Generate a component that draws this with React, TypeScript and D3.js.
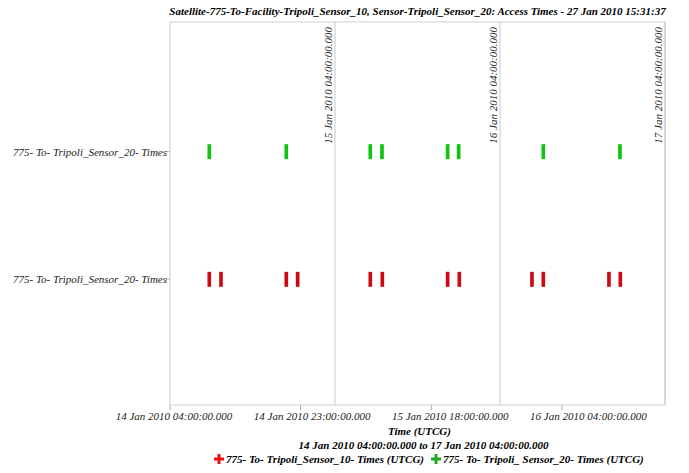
import React from "react";
import * as d3 from "d3";

const TITLE = "Satellite-775-To-Facility-Tripoli_Sensor_10, Sensor-Tripoli_Sensor_20: Access Times - 27 Jan 2010 15:31:37";
const rows = ["775- To- Tripoli_Sensor_20- Times (green)", "775- To- Tripoli_Sensor_20- Times (red)"];
const rowLabels = ["775- To- Tripoli_Sensor_20- Times", "775- To- Tripoli_Sensor_20- Times"];

const domainStart = "2010-01-14T04:00:00Z";
const domainEnd = "2010-01-17T04:00:00Z";

const tickTimes = ["2010-01-14T04:00:00Z", "2010-01-14T23:00:00Z", "2010-01-15T18:00:00Z", "2010-01-16T13:00:00Z"];
const tickLabels = ["14 Jan 2010 04:00:00.000", "14 Jan 2010 23:00:00.000", "15 Jan 2010 18:00:00.000", "16 Jan 2010 04:00:00.000"];

const dayLines = ["2010-01-15T04:00:00Z", "2010-01-16T04:00:00Z", "2010-01-17T04:00:00Z"];
const dayLabels = ["15 Jan 2010 04:00:00.000", "16 Jan 2010 04:00:00.000", "17 Jan 2010 04:00:00.000"];

// Sensor_20 (green) access intervals [start, stop]
const greenStarts = ["2010-01-14T09:27:00Z", "2010-01-14T20:39:00Z", "2010-01-15T08:52:00Z", "2010-01-15T10:34:00Z", "2010-01-15T20:07:00Z", "2010-01-15T21:43:00Z", "2010-01-16T10:02:00Z", "2010-01-16T21:11:00Z"];
const greenStops = ["2010-01-14T09:59:00Z", "2010-01-14T21:11:00Z", "2010-01-15T09:24:00Z", "2010-01-15T11:06:00Z", "2010-01-15T20:39:00Z", "2010-01-15T22:15:00Z", "2010-01-16T10:34:00Z", "2010-01-16T21:43:00Z"];

// Sensor_10 (red) access intervals [start, stop]
const redStarts = ["2010-01-14T09:27:00Z", "2010-01-14T11:09:00Z", "2010-01-14T20:39:00Z", "2010-01-14T22:18:00Z", "2010-01-15T08:52:00Z", "2010-01-15T10:37:00Z", "2010-01-15T20:07:00Z", "2010-01-15T21:49:00Z", "2010-01-16T08:23:00Z", "2010-01-16T10:02:00Z", "2010-01-16T19:35:00Z", "2010-01-16T21:14:00Z"];
const redStops = ["2010-01-14T09:59:00Z", "2010-01-14T11:41:00Z", "2010-01-14T21:11:00Z", "2010-01-14T22:50:00Z", "2010-01-15T09:24:00Z", "2010-01-15T11:09:00Z", "2010-01-15T20:39:00Z", "2010-01-15T22:21:00Z", "2010-01-16T08:55:00Z", "2010-01-16T10:34:00Z", "2010-01-16T20:07:00Z", "2010-01-16T21:46:00Z"];

const legendLabels = ["775- To- Tripoli_Sensor_10- Times (UTCG)", "775- To- Tripoli_ Sensor_20- Times (UTCG)"];

const W = 689, H = 473;
const M = { left: 170, right: 665, top: 22, bottom: 405 };
const FONT = "'Liberation Serif', serif";
const base: React.CSSProperties = { fontFamily: FONT, fontStyle: "italic", fontSize: "11px" };
const bold: React.CSSProperties = { ...base, fontWeight: "bold" };

export default function App() {
  const x = d3.scaleUtc().domain([new Date(domainStart), new Date(domainEnd)]).range([M.left, M.right]);
  const y = d3.scalePoint().domain(rows).range([M.top + 2, M.bottom + 2]).padding(1);
  const barH = 15;
  const greenY = y(rows[0])!;
  const redY = y(rows[1])!;
  const cx = (M.left + M.right) / 2;

  const bars = (starts: string[], stops: string[], cy: number, color: string) =>
    starts.map((s, i) => {
      const x0 = x(new Date(s));
      const x1 = x(new Date(stops[i]));
      return <rect key={color + i} x={x0} y={cy - barH / 2} width={Math.max(1, x1 - x0)} height={barH} fill={color} />;
    });

  const plus = (px: number, py: number, color: string) => (
    <path d={`M${px - 5},${py - 1.5}h3.5v-3.5h3v3.5h3.5v3h-3.5v3.5h-3v-3.5h-3.5z`} fill={color} />
  );

  return (
    <svg width={W} height={H} style={{ position: "absolute", left: 0, top: 0, background: "#fff" }}>
      <text x={cx} y={15} textAnchor="middle" style={bold}>{TITLE}</text>
      <rect x={M.left} y={M.top} width={M.right - M.left} height={M.bottom - M.top} fill="none" stroke="#d0d0d0" />
      {dayLines.map((d, i) => (
        <g key={d}>
          <line x1={x(new Date(d))} x2={x(new Date(d))} y1={M.top} y2={M.bottom} stroke="#c8c8c8" />
          <text transform={`translate(${x(new Date(d)) - 3},${M.top + 5}) rotate(-90)`} textAnchor="end" style={base} fill="#222">{dayLabels[i]}</text>
        </g>
      ))}
      {rows.map((r, i) => (
        <g key={r}>
          <line x1={M.left - 4} x2={M.left} y1={y(r)!} y2={y(r)!} stroke="#bbb" />
          <text x={M.left - 3} y={y(r)! + 4} textAnchor="end" style={base} fill="#222">{rowLabels[i]}</text>
        </g>
      ))}
      {bars(greenStarts, greenStops, greenY, "#11c411")}
      {bars(redStarts, redStops, redY, "#cc0a14")}
      {tickTimes.map((t, i) => (
        <g key={t}>
          <line x1={x(new Date(t))} x2={x(new Date(t))} y1={M.bottom} y2={M.bottom + 5} stroke="#aaa" />
          <text x={x(new Date(t)) + 4 + i * 7.5} y={M.bottom + 15} textAnchor="middle" style={base} fill="#222">{tickLabels[i]}</text>
        </g>
      ))}
      <text x={cx + 2} y={435} textAnchor="middle" style={bold}>Time (UTCG)</text>
      <text x={cx + 6} y={449} textAnchor="middle" style={bold}>14 Jan 2010 04:00:00.000 to 17 Jan 2010 04:00:00.000</text>
      {plus(219, 459, "#ee1111")}
      <text x={226} y={463} style={bold}>{legendLabels[0]}</text>
      {plus(436, 459, "#22aa22")}
      <text x={443} y={463} style={bold}>{legendLabels[1]}</text>
    </svg>
  );
}
